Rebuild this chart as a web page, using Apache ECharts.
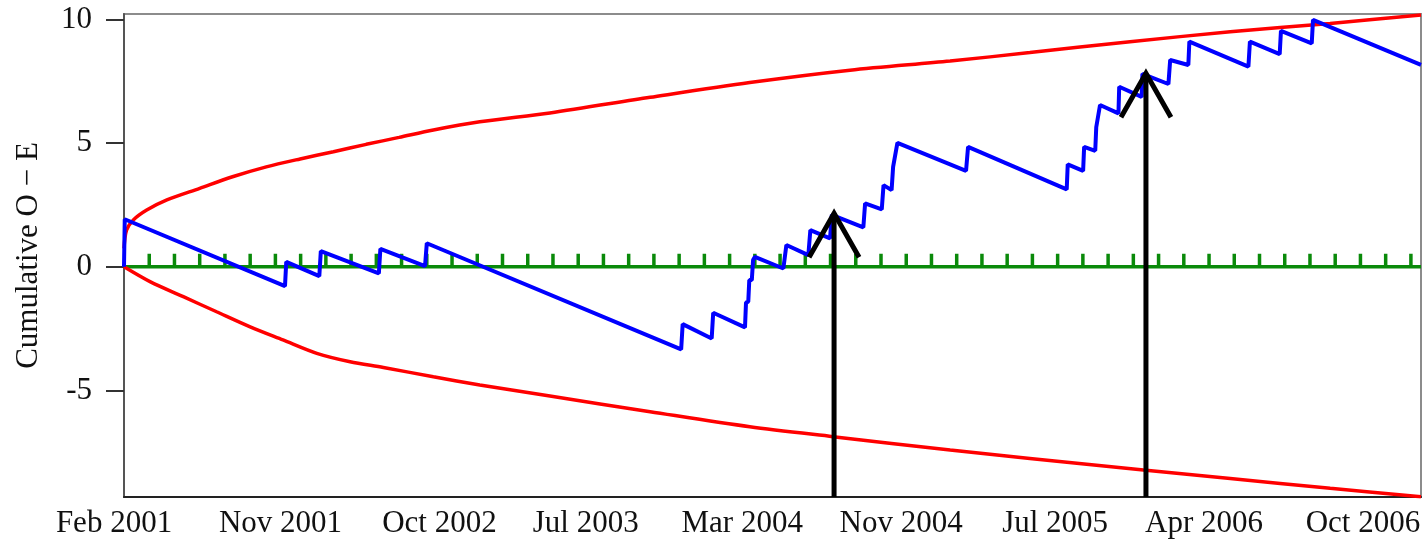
<!DOCTYPE html>
<html>
<head>
<meta charset="utf-8">
<script src="https://cdn.jsdelivr.net/npm/echarts@6/dist/echarts.min.js"></script>
<style>
  html, body { margin: 0; padding: 0; background: #fff; }
  #chart { width: 1427px; height: 541px; }
</style>
</head>
<body>
<div id="chart"></div>
<script>
// x axis is the running case number; dates mark where each period starts
const xLabelValues = [0, 62, 125, 183, 245, 308, 369, 428, 491];
const xLabelTexts = ["Feb 2001", "Nov 2001", "Oct 2002", "Jul 2003", "Mar 2004",
  "Nov 2004", "Jul 2005", "Apr 2006", "Oct 2006"];
const yLabelValues = [-5, 0, 5, 10];

// cumulative observed - expected (blue)
const oeX = [0, 0.3, 63.8, 64.3, 77.4, 78.0, 101.0, 101.6, 119.3, 120.0,
  220.8, 221.4, 232.9, 233.5, 246.1, 246.5, 247.4, 247.8, 248.8, 249.3, 250.0,
  261.3, 262.5, 271.2, 272.0, 279.8, 280.5, 293.0, 293.7, 300.3, 301.0,
  304.2, 304.8, 305.5, 306.5, 333.7, 334.5, 373.6, 374.0, 380.1, 380.5,
  384.9, 385.3, 386.0, 386.8, 394.1, 394.4, 403.3, 403.6, 413.9, 414.6,
  421.8, 422.2, 445.6, 446.2, 458.0, 458.5, 470.7, 471.2, 514];
const oeY = [0, 1.92, -0.78, 0.2, -0.38, 0.63, -0.27, 0.72, 0.03, 0.95,
  -3.34, -2.32, -2.9, -1.86, -2.45, -1.45, -1.41, -0.54, -0.54, 0.27, 0.4,
  -0.07, 0.88, 0.47, 1.48, 1.15, 2.1, 1.59, 2.56, 2.32, 3.3,
  3.1, 4.04, 4.1, 5.01, 3.88, 4.85, 3.13, 4.14, 3.88, 4.85,
  4.69, 5.64, 5.7, 6.54, 6.2, 7.28, 6.87, 7.8, 7.39, 8.36,
  8.16, 9.1, 8.09, 9.1, 8.6, 9.54, 9.03, 9.98, 8.16];

// control limits (red)
const upperX = [0, 1, 3.7, 9, 17, 30, 43, 56.4, 69.8, 83, 96, 109, 122.6, 141,
  168.8, 208.5, 248, 287.7, 327.4, 359, 398.7, 438.4, 478, 514];
const upperY = [0.74, 1.48, 1.89, 2.29, 2.7, 3.17, 3.64, 4.04, 4.36, 4.65, 4.95, 5.23, 5.53, 5.86,
  6.22, 6.85, 7.45, 7.95, 8.32, 8.66, 9.1, 9.5, 9.84, 10.18];
const lowerX = [0, 10.3, 23.5, 36.7, 50, 63, 76.4, 89.6, 102.8, 122.6, 141,
  168.8, 208.5, 248, 281, 327.4, 359, 404, 438.4, 478, 514];
const lowerY = [0, -0.6, -1.21, -1.82, -2.43, -2.96, -3.5, -3.84, -4.07, -4.45, -4.78,
  -5.23, -5.86, -6.47, -6.87, -7.41, -7.75, -8.22, -8.56, -8.96, -9.3];

// green rug ticks along the zero line
const rugX = [10, 20, 30, 40, 50, 60, 70, 80, 90, 100, 110, 120, 130, 140, 150,
  160, 170, 180, 190, 200, 210, 220, 230, 240, 250, 260, 270, 280, 290, 300,
  310, 320, 330, 340, 350, 360, 370, 380, 390, 400, 410, 420, 430, 440, 450,
  460, 470, 480, 490, 500, 510];

// arrows marking changes
const arrowX = [281.4, 405];
const arrowTip = [2.16, 7.82];

const xMin = 0, xMax = 514, yMin = -9.31, yMax = 10.22;
const font = "'Liberation Serif', 'DejaVu Serif', serif";
const fontSize = 31;

const chart = echarts.init(document.getElementById("chart"));

function zip(xs, ys) {
  return xs.map((x, i) => [x, ys[i]]);
}

const option = {
  animation: false,
  grid: {
    left: 124, right: 6, top: 14, bottom: 44,
    show: true, borderColor: "#8c8c8c", borderWidth: 2,
  },
  xAxis: {
    type: "value",
    min: xMin, max: xMax,
    splitLine: { show: false },
    axisLine: { show: true, onZero: false, lineStyle: { color: "#222", width: 2 } },
    axisTick: { show: false },
    axisLabel: {
      customValues: xLabelValues,
      margin: 11,
      color: "#111",
      fontSize: fontSize,
      fontFamily: font,
      formatter: function (v) {
        const i = xLabelValues.indexOf(v);
        if (i === 0) return "{first|" + xLabelTexts[0] + "}";
        return i >= 0 ? xLabelTexts[i] : "";
      },
      rich: {
        first: { fontSize: fontSize, fontFamily: font, color: "#111", padding: [0, 20, 0, 0] },
      },
    },
  },
  yAxis: {
    type: "value",
    min: yMin, max: yMax,
    splitLine: { show: false },
    axisLine: { show: true, onZero: false, lineStyle: { color: "#555", width: 2 } },
    axisTick: {
      show: true, customValues: yLabelValues, length: 18,
      lineStyle: { color: "#333", width: 2 },
    },
    axisLabel: {
      customValues: yLabelValues,
      margin: 32,
      color: "#111",
      fontSize: fontSize,
      fontFamily: font,
    },
    name: "Cumulative O \u2212 E",
    nameLocation: "middle",
    nameGap: 80,
    nameTextStyle: { fontSize: fontSize, fontFamily: font, color: "#111" },
  },
  series: [
    {
      name: "zero",
      type: "line",
      data: [[xMin, 0], [xMax, 0]],
      showSymbol: false,
      lineStyle: { color: "#0a8a0a", width: 3.5 },
      z: 2,
    },
    {
      name: "rug",
      type: "custom",
      data: rugX.map((x) => [x, 0]),
      renderItem: function (params, api) {
        const p = api.coord([api.value(0), api.value(1)]);
        return {
          type: "line",
          shape: { x1: p[0], y1: p[1], x2: p[0], y2: p[1] - 13 },
          style: { stroke: "#0a8a0a", lineWidth: 3.5 },
        };
      },
      z: 2,
    },
    {
      name: "upper",
      type: "line",
      data: zip(upperX, upperY),
      showSymbol: false,
      smooth: 0.3,
      lineStyle: { color: "#ff0000", width: 3.5 },
      z: 3,
    },
    {
      name: "lower",
      type: "line",
      data: zip(lowerX, lowerY),
      showSymbol: false,
      smooth: 0.3,
      lineStyle: { color: "#ff0000", width: 3.5 },
      z: 3,
    },
    {
      name: "O-E",
      type: "line",
      data: zip(oeX, oeY),
      showSymbol: false,
      lineStyle: { color: "#0000ff", width: 4 },
      z: 4,
    },
    {
      name: "arrows",
      type: "custom",
      clip: false,
      data: zip(arrowX, arrowTip),
      renderItem: function (params, api) {
        const tip = api.coord([api.value(0), api.value(1)]);
        const base = api.coord([api.value(0), yMin]);
        const stroke = { stroke: "#000", lineWidth: 5, fill: null };
        return {
          type: "group",
          children: [
            { type: "line", shape: { x1: tip[0], y1: tip[1], x2: base[0], y2: base[1] }, style: stroke },
            {
              type: "polyline",
              shape: { points: [[tip[0] - 25, tip[1] + 44], [tip[0], tip[1]], [tip[0] + 25, tip[1] + 44]] },
              style: stroke,
            },
          ],
        };
      },
      z: 5,
    },
  ],
};

chart.setOption(option);
window.addEventListener("resize", () => chart.resize());
</script>
</body>
</html>
